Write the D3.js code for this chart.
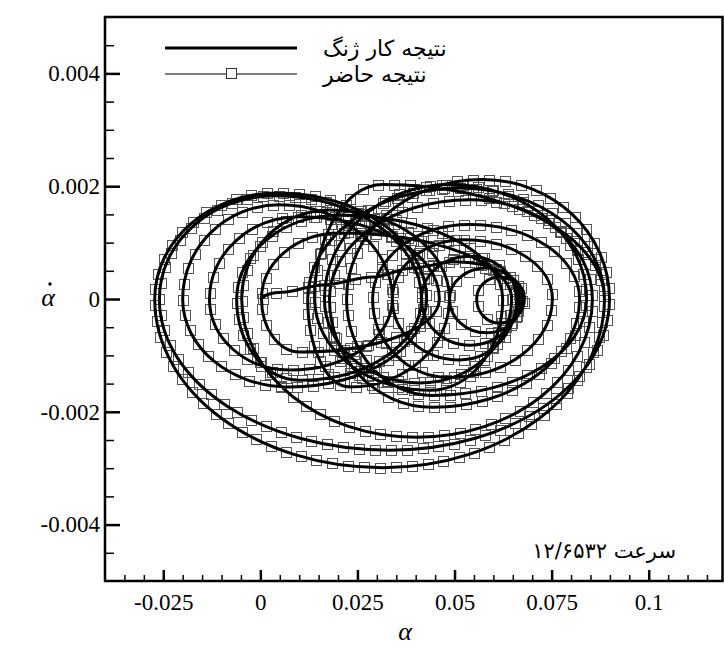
<!DOCTYPE html>
<html><head><meta charset="utf-8">
<script src="https://cdn.jsdelivr.net/npm/d3@7"></script>
<style>body{margin:0;background:#fff;} svg{display:block;}</style>
</head><body><svg id="c" width="724" height="649"></svg>
<script>
// ---- data ----
const xTicks = [-0.025, 0, 0.025, 0.05, 0.075, 0.1];
const xTickLabels = ["-0.025", "0", "0.025", "0.05", "0.075", "0.1"];
const yTicks = [-0.004, -0.002, 0, 0.002, 0.004];
const yTickLabels = ["-0.004", "-0.002", "0", "0.002", "0.004"];
const seriesNames = ["نتیجه کار ژنگ", "نتیجه حاضر"];
const speedLabel = "سرعت ۱۲/۶۵۳۲";

// trajectory turning points / velocity extrema (alpha, alpha-dot) in time order
const zhengAlpha = [0.0006,0.0057,0.0160,0.0289,0.0392,0.0500,0.0680,0.0616,0.0557,0.0616,0.0675,0.0582,0.0487,0.0582,0.0667,0.0539,0.0415,0.0539,0.0660,0.0513,0.0340,0.0526,0.0752,0.0487,0.0289,0.0539,0.0822,0.0443,0.0178,0.0539,0.0855,0.0402,-0.0048,0.0178,0.0487,0.0230,0.0122,0.0513,0.0886,0.0315,-0.0272,0.0042,0.0428,0.0075,-0.0200,0.0049,0.0340,0.0075,-0.0131,0.0101,0.0461,0.0101,0.0003,0.0204,0.0647,0.0410,0.0165,0.0487,0.0840,0.0443,0.0222,0.0572,0.0899,0.0333,-0.0260,0.0037,0.0415,0.0101,-0.0061,0.0204,0.0624,0.0436,0.0140,0.0315,0.0886];
const zhengAlphaDot = [0,0.00012,0.00025,0.00039,0.00055,0.00066,0,-0.00043,0,0.00039,0,-0.00060,0,0.00055,0,-0.00082,0,0.00076,0,-0.00108,0,0.00105,0,-0.00139,0,0.00132,0,-0.00192,0,0.00176,0,-0.00245,0,0.00158,0,-0.00156,0,0.00197,0,-0.00299,0,0.00188,0,-0.00156,0,0.00167,0,-0.00126,0,0.00146,0,-0.00094,0,0.00117,0,-0.00149,0,0.00203,0,-0.00171,0,0.00212,0,-0.00268,0,0.00183,0,-0.00144,0,0.00149,0,-0.00162,0,0.00203,0];
const presentAlpha = [0.0006,0.0057,0.0160,0.0289,0.0392,0.0500,0.0680,0.0616,0.0557,0.0616,0.0675,0.0582,0.0487,0.0582,0.0667,0.0539,0.0415,0.0539,0.0660,0.0513,0.0340,0.0526,0.0752,0.0487,0.0289,0.0539,0.0822,0.0443,0.0178,0.0539,0.0855,0.0402,-0.0048,0.0178,0.0487,0.0230,0.0122,0.0513,0.0886,0.0315,-0.0272,0.0042,0.0428,0.0075,-0.0200,0.0049,0.0340,0.0075,-0.0131,0.0101,0.0461,0.0101,0.0003,0.0204,0.0647,0.0410,0.0165,0.0487,0.0840,0.0443,0.0222,0.0572,0.0899,0.0333,-0.0260,0.0037,0.0415,0.0101,-0.0061,0.0204,0.0624,0.0436,0.0140,0.0315,0.0886];
const presentAlphaDot = [0,0.00012,0.00025,0.00039,0.00055,0.00066,0,-0.00043,0,0.00039,0,-0.00060,0,0.00055,0,-0.00082,0,0.00076,0,-0.00108,0,0.00105,0,-0.00139,0,0.00132,0,-0.00192,0,0.00176,0,-0.00245,0,0.00158,0,-0.00156,0,0.00197,0,-0.00299,0,0.00188,0,-0.00156,0,0.00167,0,-0.00126,0,0.00146,0,-0.00094,0,0.00117,0,-0.00149,0,0.00203,0,-0.00171,0,0.00212,0,-0.00268,0,0.00183,0,-0.00144,0,0.00149,0,-0.00162,0,0.00203,0];

// ---- layout ----
const svg = d3.select("#c");
const x = d3.scaleLinear().domain([-0.04, 0.119]).range([105, 722.5]);
const y = d3.scaleLinear().domain([-0.005, 0.005]).range([581, 17]);
const serif = "'Liberation Serif','Times New Roman',serif";
const persian = "'DejaVu Sans','Noto Sans',sans-serif";

svg.append("defs").append("clipPath").attr("id","clip")
  .append("rect").attr("x",x.range()[0]).attr("y",y.range()[1])
  .attr("width",x.range()[1]-x.range()[0]).attr("height",y.range()[0]-y.range()[1]);

// minor ticks
const xMinor = d3.range(-0.035, 0.1175, 0.005).filter(v => !xTicks.some(t => Math.abs(t - v) < 1e-9));
const yMinor = d3.range(-0.0045, 0.0046, 0.0005).filter(v => !yTicks.some(t => Math.abs(t - v) < 1e-9));

const gxm = svg.append("g").attr("transform",`translate(0,${y.range()[0]})`)
  .call(d3.axisBottom(x).tickValues(xMinor).tickSize(-6).tickFormat(""));
gxm.select(".domain").remove();
gxm.selectAll("line").attr("stroke","#000").attr("stroke-width",1.5);

const gym = svg.append("g").attr("transform",`translate(${x.range()[0]},0)`)
  .call(d3.axisLeft(y).tickValues(yMinor).tickSize(-9).tickFormat(""));
gym.select(".domain").remove();
gym.selectAll("line").attr("stroke","#000").attr("stroke-width",1.5);

const gx = svg.append("g").attr("transform",`translate(0,${y.range()[0]})`)
  .call(d3.axisBottom(x).tickValues(xTicks).tickSize(-11).tickPadding(13)
    .tickFormat((d,i) => xTickLabels[i]));
gx.select(".domain").remove();
gx.selectAll("line").attr("stroke","#000").attr("stroke-width",2.5);
gx.selectAll("text").attr("font-family",serif).attr("font-size",23).attr("fill","#000");

const gy = svg.append("g").attr("transform",`translate(${x.range()[0]},0)`)
  .call(d3.axisLeft(y).tickValues(yTicks).tickSize(-15).tickPadding(5)
    .tickFormat((d,i) => yTickLabels[i]));
gy.select(".domain").remove();
gy.selectAll("line").attr("stroke","#000").attr("stroke-width",2.5);
gy.selectAll("text").attr("font-family",serif).attr("font-size",23).attr("fill","#000");

// phase-plane curve: vertical tangent at turning points (alpha-dot = 0),
// horizontal tangent at velocity extrema -> elliptical arcs
function phaseCurve(yZero) {
  return function(context) {
    let pts = [];
    return {
      areaStart(){}, areaEnd(){},
      lineStart(){ pts = []; },
      point(px, py){ pts.push([+px, +py]); },
      lineEnd(){
        if (!pts.length) return;
        context.moveTo(pts[0][0], pts[0][1]);
        for (let i = 1; i < pts.length; i++) {
          const [x0, y0] = pts[i-1], [x1, y1] = pts[i];
          const v0 = Math.abs(y0 - yZero) < 0.01, v1 = Math.abs(y1 - yZero) < 0.01;
          const k = (v0 !== v1) ? 0.5523 : 1/3;
          const dx = x1 - x0, dy = y1 - y0;
          const c1 = v0 ? [x0, y0 + k*dy] : [x0 + k*dx, y0];
          const c2 = v1 ? [x1, y1 - k*dy] : [x1 - k*dx, y1];
          context.bezierCurveTo(c1[0], c1[1], c2[0], c2[1], x1, y1);
        }
      }
    };
  };
}
const zhengData = zhengAlpha.map((a,i) => [a, zhengAlphaDot[i]]);
const presentData = presentAlpha.map((a,i) => [a, presentAlphaDot[i]]);
const line = d3.line().x(d => x(d[0])).y(d => y(d[1])).curve(phaseCurve(y(0)));

const plot = svg.append("g").attr("clip-path","url(#clip)");
const pPath = plot.append("path").datum(presentData).attr("d", line)
  .attr("fill","none").attr("stroke","#000").attr("stroke-width",1);

// symbols spaced by distance along the present-result line
const node = pPath.node();
const total = node.getTotalLength();
const marks = d3.range(0, total, 16).map(s => node.getPointAtLength(s));
plot.append("g").selectAll("rect").data(marks).join("rect")
  .attr("x", p => Math.round(p.x) - 4.5).attr("y", p => Math.round(p.y) - 4.5)
  .attr("width", 10).attr("height", 10)
  .attr("fill","none").attr("stroke","#555").attr("stroke-width",1);

plot.append("path").datum(zhengData).attr("d", line)
  .attr("fill","none").attr("stroke","#000").attr("stroke-width",3);

// frame
svg.append("rect").attr("x",x.range()[0]).attr("y",y.range()[1])
  .attr("width",x.range()[1]-x.range()[0]).attr("height",y.range()[0]-y.range()[1])
  .attr("fill","none").attr("stroke","#000").attr("stroke-width",2.5);

// legend
const lg = svg.append("g");
lg.append("line").attr("x1",165).attr("x2",297).attr("y1",48).attr("y2",48)
  .attr("stroke","#000").attr("stroke-width",3);
lg.append("line").attr("x1",165).attr("x2",297).attr("y1",74).attr("y2",74)
  .attr("stroke","#000").attr("stroke-width",1);
lg.append("rect").attr("x",226.5).attr("y",68.5).attr("width",10).attr("height",10)
  .attr("fill","#fff").attr("stroke","#333").attr("stroke-width",1);
lg.append("text").attr("x",323).attr("y",56).attr("font-family",persian).attr("font-size",22)
  .text(seriesNames[0]);
lg.append("text").attr("x",323).attr("y",82).attr("font-family",persian).attr("font-size",22)
  .text(seriesNames[1]);

// speed annotation
svg.append("text").attr("x",676).attr("y",558).attr("text-anchor","end")
  .attr("font-family",persian).attr("font-size",21).text(speedLabel);

// axis titles (alpha-dot: italic alpha with a dot above)
svg.append("text").attr("x",48).attr("y",306).attr("text-anchor","middle")
  .attr("font-family",serif).attr("font-style","italic").attr("font-size",26).text("α");
svg.append("circle").attr("cx",50).attr("cy",284).attr("r",1.7).attr("fill","#000");
svg.append("text").attr("x",405).attr("y",640).attr("text-anchor","middle")
  .attr("font-family",serif).attr("font-style","italic").attr("font-size",26).text("α");
</script></body></html>
